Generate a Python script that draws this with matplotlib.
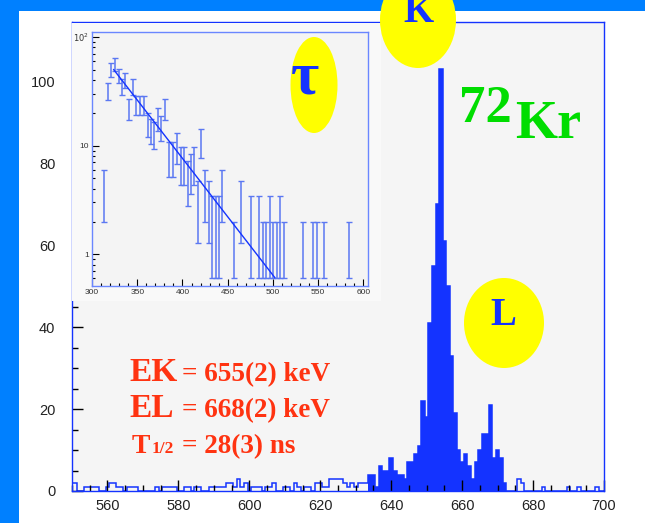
import numpy as np
import matplotlib.pyplot as plt
from matplotlib.patches import Ellipse, Rectangle
from matplotlib.ticker import MultipleLocator, FixedLocator, NullFormatter

# gamma spectrum, 1 keV bins (bin centres in keV)
peak_energy = list(range(634, 673))
peak_counts = [4, 4, 1, 6, 5, 5, 8, 5, 4, 4, 3, 7, 7, 9, 11, 22, 18, 41, 55, 70,
               103, 61, 50, 33, 19, 10, 7, 9, 6, 3, 7, 10, 14, 14, 21, 8, 10, 8, 2]
bg_energy = [550, 551, 554, 555, 556, 557, 560, 561, 562, 563, 564, 566, 567, 568,
             574, 576, 577, 578, 579, 582, 583, 585, 586, 589, 590, 591, 592, 593,
             594, 595, 596, 597, 598, 599, 601, 602, 603, 605, 606, 607, 610, 611,
             613, 614, 616, 617, 619, 620, 621, 622, 623, 624, 625, 626, 627, 628,
             629, 630, 631, 632, 633, 676, 677, 683, 690, 693, 698]
bg_counts = [2, 2, 1, 1, 1, 1, 1, 2, 2, 1, 1, 1, 1, 1,
             1, 1, 1, 1, 1, 1, 1, 1, 1, 1, 1, 1, 1, 1,
             2, 2, 1, 3, 1, 2, 1, 1, 1, 1, 1, 2, 1, 1,
             2, 1, 1, 1, 2, 2, 1, 1, 3, 3, 3, 3, 2, 1,
             2, 1, 2, 2, 2, 3, 2, 1, 1, 1, 1]

# time spectrum (inset)
tau_time = [313.6, 317.2, 320.9, 324.9, 329.3, 333.0, 337.0, 341.1, 345.1, 349.1,
            353.2, 357.2, 361.6, 365.3, 368.9, 372.6, 376.3, 380.7, 385.4, 389.1,
            393.5, 398.3, 401.9, 405.6, 409.3, 412.6, 417.3, 421.0, 424.7, 429.0,
            432.7, 436.8, 440.8, 444.1, 456.6, 464.3, 476.0, 484.4, 488.8, 492.5,
            496.5, 499.8, 504.2, 508.3, 512.7, 532.8, 543.9, 548.3, 556.7, 584.2]
tau_counts = [4, 32, 50, 56, 44, 35, 40, 22, 35, 24,
              24, 24, 16, 14, 13, 18, 15, 22, 8, 8,
              10, 7, 7, 5, 6, 7, 3, 11, 4, 3,
              2, 2, 2, 4, 1, 3, 2, 2, 1, 1,
              2, 1, 1, 2, 1, 1, 1, 1, 1, 1]
fit_start, fit_end, fit_amp, half_life = 324, 502, 50, 28

blue = "#1433FF"
red = "#FF3311"

edges = np.arange(549.5, 701.5, 1.0)
centres = edges[:-1] + 0.5
counts = np.zeros(len(centres))
for e, c in zip(bg_energy, bg_counts):
    counts[int(e - 550)] = c
peak = np.array(peak_counts, dtype=float)
peak_edges = np.append(np.array(peak_energy) - 0.5, peak_energy[-1] + 0.5)
for e, c in zip(peak_energy, peak_counts):
    counts[int(e - 550)] = c

fig = plt.figure(figsize=(6.45, 5.23), dpi=100)
fig.patch.set_facecolor("white")

ax = fig.add_axes([72 / 645, 1 - 491 / 523, (604 - 72) / 645, (491 - 22) / 523])
ax.set_facecolor("#F5F5F5")
ax.stairs(counts, edges, color=blue, lw=1.1)
ax.stairs(peak, peak_edges, color=blue, fill=True, lw=0)
ax.set_xlim(550, 700)
ax.set_ylim(0, 114.5)
for s in ax.spines.values():
    s.set_color(blue)
    s.set_linewidth(1)
ax.xaxis.set_major_locator(MultipleLocator(20))
ax.xaxis.set_minor_locator(MultipleLocator(5))
ax.yaxis.set_major_locator(MultipleLocator(20))
ax.yaxis.set_minor_locator(MultipleLocator(5))
ax.tick_params(direction="in", which="major", length=8, width=1, color="black",
               labelsize=10.5, pad=6, top=False, right=False)
ax.tick_params(direction="in", which="minor", length=4, width=1, color="black",
               top=False, right=False)
ax.tick_params(axis="y", pad=12)
for lab in ax.get_xticklabels() + ax.get_yticklabels():
    lab.set_family("Liberation Sans")
    lab.set_color("#222222")

# light panel behind the inset and its labels
fig.patches.append(Rectangle((72 / 645, 1 - 301 / 523), (381 - 72) / 645, (301 - 23) / 523,
                             transform=fig.transFigure, facecolor="#F9F9F9", lw=0, zorder=1.5))

# inset with decay curve
ins = fig.add_axes([92 / 645, 1 - 286 / 523, (368 - 92) / 645, (286 - 32) / 523], zorder=2)
ins.set_facecolor("#F4F4F4")
n = np.array(tau_counts, dtype=float)
err_up = np.sqrt(n)
err_lo = n - np.maximum(n - np.sqrt(n), 0.6)
ins.errorbar(tau_time, n, yerr=[err_lo, err_up], fmt="none", ecolor="#5B78F2",
             elinewidth=1.1, capsize=2, capthick=1)
t = np.linspace(fit_start, fit_end, 100)
ins.plot(t, fit_amp * np.exp(-(t - fit_start) * np.log(2) / half_life), color=blue, lw=1)
ins.set_yscale("log")
ins.set_xlim(300, 605)
ins.set_ylim(0.51, 111)
for s in ins.spines.values():
    s.set_color("#6A86FF")
    s.set_linewidth(1)
ins.xaxis.set_major_locator(MultipleLocator(50))
ins.xaxis.set_minor_locator(MultipleLocator(10))
ins.yaxis.set_major_locator(FixedLocator([1, 10, 100]))
ins.set_yticklabels(["1", "10", "$10^2$"])
ins.yaxis.set_minor_locator(FixedLocator([k * d for d in (0.1, 1, 10) for k in range(2, 10)]))
ins.yaxis.set_minor_formatter(NullFormatter())
ins.tick_params(direction="in", which="major", length=5, width=0.8, color="black",
                labelsize=6, pad=2, top=False, right=False)
ins.tick_params(direction="in", which="minor", length=2.5, width=0.8, color="black",
                top=False, right=False)
for lab in ins.get_xticklabels() + ins.get_yticklabels():
    lab.set_family("Liberation Sans")
    lab.set_color("#333333")

# decorations in pixel coordinates
ov = fig.add_axes([0, 0, 1, 1], zorder=5)
ov.set_xlim(0, 645)
ov.set_ylim(523, 0)
ov.axis("off")
ov.patch.set_alpha(0)
ov.add_patch(Rectangle((0, 0), 645, 11, color="#0080FF", lw=0))
ov.add_patch(Rectangle((0, 0), 19, 523, color="#0080FF", lw=0))
ov.add_patch(Ellipse((418, 20), 76, 96, color="#FFFF00", lw=0))
ov.add_patch(Ellipse((314, 85), 47, 96, color="#FFFF00", lw=0))
ov.add_patch(Ellipse((504, 323), 80, 90, color="#FFFF00", lw=0))

serif = "Liberation Serif"
ov.text(418, 22, "K", color=blue, fontsize=28, fontweight="bold", family=serif,
        ha="center", va="baseline")
ov.text(503, 325, "L", color=blue, fontsize=28, fontweight="bold", family=serif,
        ha="center", va="baseline")
ov.text(305, 93, "τ", color=blue, fontsize=44, fontweight="bold", family=serif,
        ha="center", va="baseline")
ov.text(459, 122, "72", color="#00DD00", fontsize=38, fontweight="bold", family=serif,
        ha="left", va="baseline")
ov.text(515, 138, "Kr", color="#00DD00", fontsize=39, fontweight="bold", family=serif,
        ha="left", va="baseline")

ov.text(129, 381, "EK", color=red, fontsize=24, fontweight="bold", family=serif, va="baseline")
ov.text(182, 381, "= 655(2) keV", color=red, fontsize=19.5, fontweight="bold", family=serif,
        va="baseline")
ov.text(129, 417, "EL", color=red, fontsize=24, fontweight="bold", family=serif, va="baseline")
ov.text(182, 417, "= 668(2) keV", color=red, fontsize=19.5, fontweight="bold", family=serif,
        va="baseline")
ov.text(132, 453, "T", color=red, fontsize=20, fontweight="bold", family=serif, va="baseline")
ov.text(152, 453, "1/2", color=red, fontsize=12.5, fontweight="bold", family=serif, va="baseline")
ov.text(182, 453, "= 28(3) ns", color=red, fontsize=19.5, fontweight="bold", family=serif,
        va="baseline")

fig.savefig("out.png", dpi=100)
